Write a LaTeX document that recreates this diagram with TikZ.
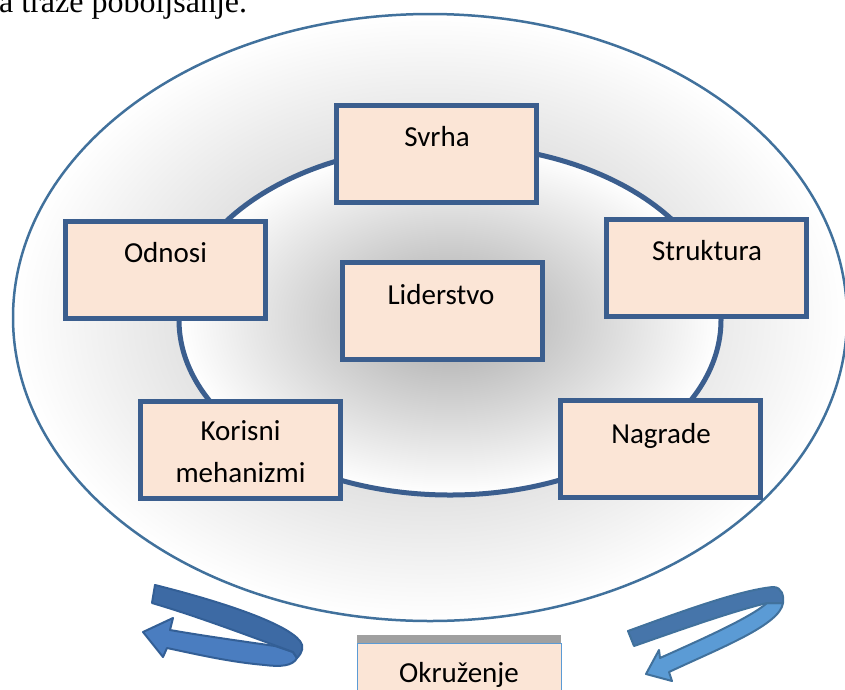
\documentclass[tikz,border=0pt]{standalone}
\usepackage{fontspec}
\setmainfont{Carlito}
\newfontfamily\serifface{Liberation Serif}
\definecolor{ringblue}{HTML}{41719C}
\definecolor{boxblue}{HTML}{3B5E8E}
\definecolor{boxfill}{HTML}{FBE5D6}
\definecolor{lightblue}{HTML}{5B9BD5}
\definecolor{barGray}{HTML}{A0A0A0}
\definecolor{gOuter}{HTML}{BBBBBB}
\definecolor{gInner}{HTML}{A8A8A8}
\definecolor{arrLup}{HTML}{3D6AA4}
\definecolor{arrLlo}{HTML}{4A7DC0}
\definecolor{arrLline}{HTML}{335F96}
\definecolor{arrRup}{HTML}{4675AA}
\definecolor{arrRlo}{HTML}{5B9BD5}
\definecolor{arrRline}{HTML}{41719C}
\pgfdeclareradialshading{outershade}{\pgfpoint{0bp}{0bp}}{color(0bp)=(gOuter); color(25bp)=(white); color(50bp)=(white)}
\pgfdeclareradialshading{innershade}{\pgfpoint{0bp}{0bp}}{color(0bp)=(gInner); color(25bp)=(white); color(50bp)=(white)}
\begin{document}
\begin{tikzpicture}[x=1pt,y=-1pt,
  box/.style={draw=boxblue, line width=5pt, fill=boxfill, minimum width=200pt, minimum height=97pt, inner sep=0pt, outer sep=0pt},
  lbl/.style={inner sep=0pt, anchor=base, font=\fontsize{29}{42}\selectfont},
  arrowline/.style={line width=2pt, line join=round}]
\useasboundingbox (0,0) rectangle (845,689);
\begin{scope}
\clip (0,0) rectangle (845,689);
% top text
\node[inner sep=0pt, anchor=base west, font=\serifface\fontsize{32}{38}\selectfont] (toptext) at (-1,12.7) {a traže poboljšanje.};
% outer ellipse
\coordinate (oc) at (430,317.5);
\shade[shading=outershade] (oc) ellipse [x radius=417pt, y radius=303.5pt];
\draw[ringblue, line width=2.5pt] (oc) ellipse [x radius=417pt, y radius=303.5pt];
% inner ellipse
\coordinate (ic) at (450,320);
\shade[shading=innershade] (ic) ellipse [x radius=271pt, y radius=175pt];
\draw[boxblue, line width=5pt] (ic) ellipse [x radius=271pt, y radius=175pt];
% boxes
\node[box] (svrha) at (436.5,154) {};
\node[lbl] (svrhaT) at (437,146) {Svrha};
\node[box] (odnosi) at (165,270) {};
\node[lbl] (odnosiT) at (165.5,262) {Odnosi};
\node[box] (struktura) at (706.5,268.3) {};
\node[lbl] (strukturaT) at (707,260) {Struktura};
\node[box] (liderstvo) at (442,311) {};
\node[lbl] (liderstvoT) at (441,304) {Liderstvo};
\node[box] (korisni) at (240.5,449.5) {};
\node[lbl] (korisniT) at (240.5,440) {Korisni};
\node[lbl] (korisniT2) at (240.5,482) {mehanizmi};
\node[box] (nagrade) at (660.5,449) {};
\node[lbl] (nagradeT) at (661,443) {Nagrade};
% Okruzenje
\fill[barGray] (357,635) rectangle (561,643);
\node[draw=lightblue, line width=1pt, fill=boxfill, minimum width=204pt, minimum height=74pt, inner sep=0pt] (okr) at (459,680) {};
\node[lbl] (okrT) at (459,682) {Okruženje};
% left curved arrow
\filldraw[fill=arrLlo, draw=arrLline, arrowline]
  (297,658) .. controls (293,666) and (280,667) .. (265,665)
  .. controls (230,662) and (200,655) .. (167,648)
  -- (163,657) -- (143,632) -- (173,618) -- (170,630)
  .. controls (210,637) and (255,643) .. (275,646) -- (293,652) -- cycle;
\filldraw[fill=arrLup, draw=arrLline, arrowline]
  (155,585) .. controls (215,600) and (285,622) .. (300,641)
  .. controls (304,646) and (303,652) .. (297,658)
  -- (293,652) .. controls (260,640) and (200,617) .. (152,603) -- cycle;
% right curved arrow
\filldraw[fill=arrRlo, draw=arrRline, arrowline]
  (783,603) .. controls (780,625) and (720,648) .. (669,672)
  -- (672,681) -- (646,674) -- (659,650) -- (660,658)
  .. controls (700,640) and (750,618) .. (767,603) -- cycle;
\filldraw[fill=arrRup, draw=arrRline, arrowline]
  (628,631) .. controls (680,612) and (740,590) .. (773,587)
  .. controls (782,587) and (784,596) .. (783,603)
  -- (767,603) .. controls (730,612) and (680,630) .. (634,646) -- cycle;
\end{scope}
\end{tikzpicture}
\end{document}
